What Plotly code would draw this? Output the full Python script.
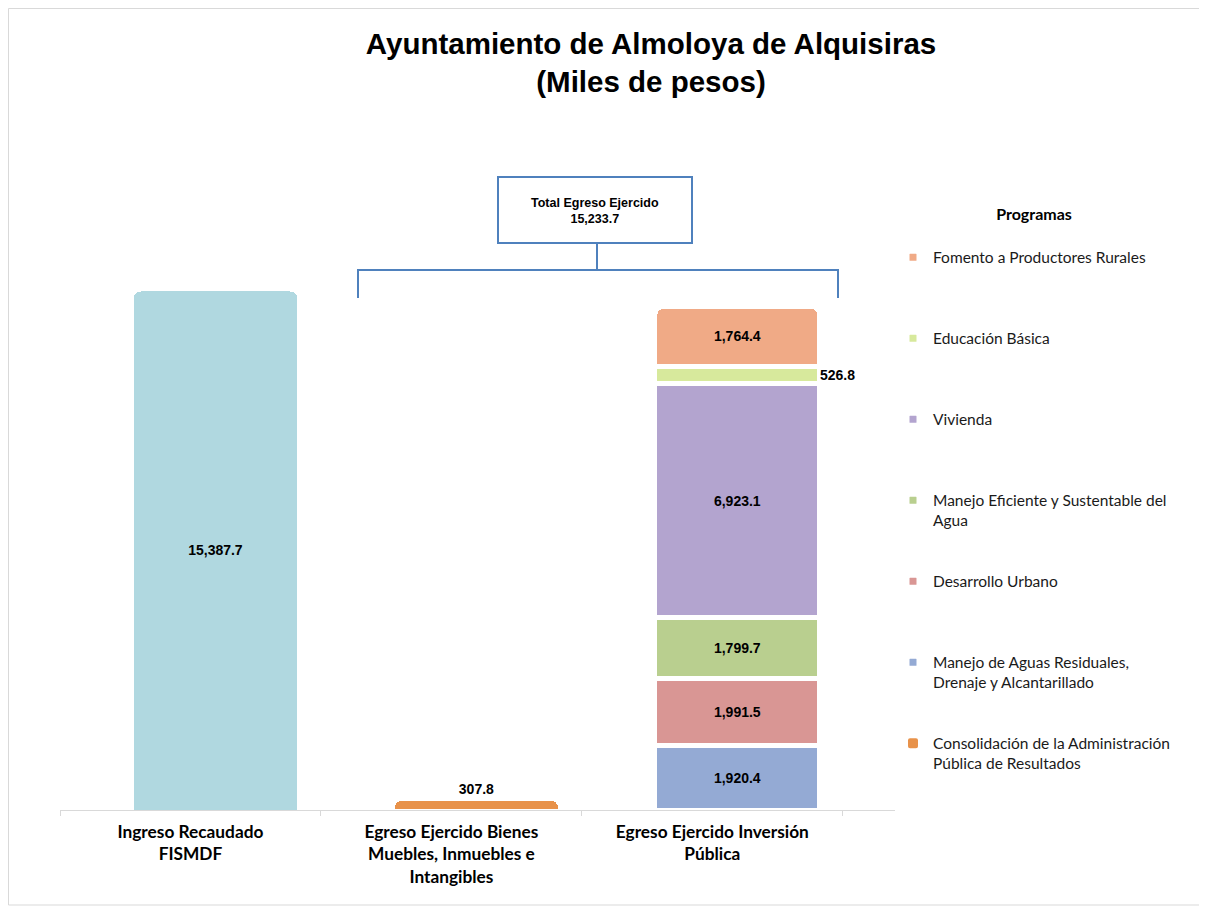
import plotly.graph_objects as go

# ---------------- data ----------------
categories = [
    "Ingreso Recaudado<br>FISMDF",
    "Egreso Ejercido Bienes<br>Muebles, Inmuebles e<br>Intangibles",
    "Egreso Ejercido Inversión<br>Pública",
]
ingreso_value = 15387.7
bienes_name = "Consolidación de la Administración<br>Pública de Resultados"
bienes_value = 307.8

program_names = [
    "Manejo de Aguas Residuales,<br>Drenaje y Alcantarillado",
    "Desarrollo Urbano",
    "Manejo Eficiente y Sustentable del<br>Agua",
    "Vivienda",
    "Educación Básica",
    "Fomento a Productores Rurales",
]
program_values = [1920.4, 1991.5, 1799.7, 6923.1, 526.8, 1764.4]
program_colors = ["#94aad4", "#d99694", "#b9cf8f", "#b3a4cf", "#d7e99c", "#f0aa86"]
ingreso_color = "#b0d8e0"
bienes_color = "#e8924a"
total_egreso = 15233.7

# ---------------- figure ----------------
BAR_W = 0.632
BAR_OFF = -0.22
label_font = dict(family="Liberation Sans", size=14, color="#000000")
legend_font = dict(family="Lato", size=15.5, color="#1a1a1a")

fig = go.Figure()

fig.add_trace(go.Bar(
    x=[categories[0]], y=[ingreso_value], width=BAR_W, offset=BAR_OFF,
    marker=dict(color=ingreso_color, line=dict(color="white", width=1)),
    texttemplate="<b>%{y:,.1f}</b>", textposition="inside", insidetextanchor="middle",
    textfont=label_font, showlegend=False, name="Ingreso",
))

n_prog = len(program_names)
fig.add_trace(go.Bar(
    x=[categories[1]], y=[bienes_value], width=BAR_W, offset=BAR_OFF,
    marker=dict(color=bienes_color, line=dict(color="white", width=2)),
    texttemplate="<b>%{y:,.1f}</b>", textposition="outside",
    textfont=label_font, name=bienes_name,
    legendgroup="g_bienes", legendrank=1000 + n_prog,
))

for i, (n, v, c) in enumerate(zip(program_names, program_values, program_colors)):
    small = v < 1000
    nm = n if "<br>" in n else n + "<br> "
    fig.add_trace(go.Bar(
        x=[categories[2]], y=[v], width=BAR_W, offset=BAR_OFF,
        marker=dict(color=c, line=dict(color="white", width=5)),
        texttemplate="" if small else "<b>%{y:,.1f}</b>",
        textposition="inside", insidetextanchor="middle",
        textfont=label_font, name=nm,
        legendgroup=f"g{i}", legendrank=1000 + n_prog - 1 - i,
    ))
    if small:
        base = sum(program_values[:i])
        fig.add_annotation(
            x=2 + BAR_OFF + BAR_W, y=base + v / 2, xref="x", yref="y",
            text=f"<b>{v:,.1f}</b>", showarrow=False, xanchor="left",
            xshift=-2, font=label_font,
        )

# ---------------- annotation box and bracket ----------------
# page pixel -> paper coordinates (plot area spans page x 60..895, y 150..810)
def px_x(px):
    return (px - 60) / 835.0

def px_y(py):
    return (810 - py) / 660.0

blue = "#4f81bd"
fig.add_shape(type="rect", xref="paper", yref="paper",
              x0=px_x(498), x1=px_x(692), y0=px_y(243), y1=px_y(177),
              line=dict(color=blue, width=2), fillcolor="white")
fig.add_shape(type="path", xref="paper", yref="paper",
              path=(f"M {px_x(358)} {px_y(298)} L {px_x(358)} {px_y(270)} "
                    f"L {px_x(838)} {px_y(270)} L {px_x(838)} {px_y(298)} "
                    f"M {px_x(597)} {px_y(270)} L {px_x(597)} {px_y(243)}"),
              line=dict(color=blue, width=2))
fig.add_annotation(xref="paper", yref="paper", x=px_x(595), y=px_y(194),
                   text=f"<b>Total Egreso Ejercido<br>{total_egreso:,.1f}</b>",
                   showarrow=False, font=dict(family="Liberation Sans", size=12.5, color="#000"))

# outer border
fig.add_shape(type="rect", xref="paper", yref="paper",
              x0=px_x(8.5), x1=px_x(1204), y0=px_y(905), y1=px_y(8.5),
              line=dict(color="#d9d9d9", width=1), layer="below")

# page body has an 8px margin: the figure is 1199x898 and sits at page (8, 8)
fig.update_layout(
    width=1199, height=898,
    paper_bgcolor="white", plot_bgcolor="white",
    barmode="stack", barcornerradius=8,
    margin=dict(l=52, r=312, t=142, b=96, autoexpand=False),
    title=dict(
        text="<b>Ayuntamiento de Almoloya de Alquisiras<br>(Miles de pesos)</b>",
        x=643 / 1199, xanchor="center", y=1 - 46 / 898, yanchor="top",
        font=dict(family="Liberation Sans", size=29.5, color="#000"),
    ),
    xaxis=dict(
        type="category", range=[-0.5, 2.7],
        showline=True, linecolor="#d9d9d9", linewidth=1,
        ticks="outside", tickson="boundaries", ticklen=5, tickcolor="#d9d9d9",
        tickfont=dict(family="Lato", size=17.3, color="#000", weight="bold"),
        ticklabelstandoff=6,
        showgrid=False,
    ),
    yaxis=dict(range=[0, 19567], visible=False),
    legend=dict(
        x=px_x(893), y=px_y(199), xanchor="left", yanchor="top",
        traceorder="grouped", tracegroupgap=37.7, valign="top",
        font=legend_font,
        title=dict(text="<b>Programas</b><br> ", side="top center",
                   font=dict(family="Lato", size=16, color="#000")),
        itemwidth=30,
    ),
    showlegend=True,
)

fig.write_html("out.html")
